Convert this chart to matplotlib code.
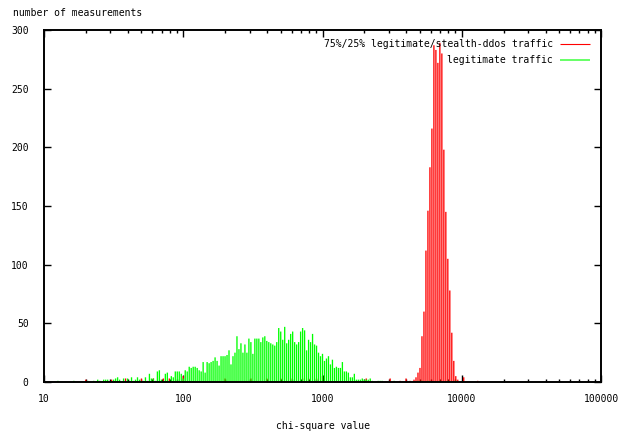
import numpy as np
import matplotlib.pyplot as plt
from matplotlib import ticker

# histogram bins are log-spaced: bin i is centred on 10 ** (1 + i / BINS_PER_DECADE)
BINS_PER_DECADE = 70

# legitimate traffic, counts for bins 0..172
GREEN_COUNTS = [
    0, 0, 0, 0, 0, 0, 0, 1, 0, 0,
    0, 0, 0, 0, 0, 1, 0, 0, 0, 0,
    0, 0, 1, 0, 0, 1, 0, 2, 1, 0,
    2, 2, 2, 0, 0, 2, 3, 4, 2, 0,
    3, 0, 3, 1, 4, 1, 2, 4, 2, 0,
    1, 4, 1, 7, 3, 3, 1, 9, 10, 2,
    1, 7, 8, 1, 5, 4, 9, 9, 9, 7,
    3, 10, 9, 13, 12, 13, 13, 12, 10, 9,
    17, 8, 17, 16, 17, 18, 21, 18, 14, 22,
    22, 22, 23, 27, 15, 22, 25, 39, 28, 33,
    25, 32, 25, 37, 34, 24, 37, 37, 37, 34,
    38, 39, 35, 34, 33, 32, 31, 34, 46, 43,
    36, 47, 33, 36, 41, 43, 34, 32, 34, 43,
    46, 44, 27, 36, 34, 41, 32, 31, 25, 22,
    24, 18, 20, 22, 15, 19, 12, 13, 12, 12,
    17, 9, 9, 8, 4, 4, 7, 2, 2, 2,
    3, 2, 2, 2, 3, 1, 0, 0, 1, 1,
    1, 0, 0,
]
GREEN_TAIL_BINS = [176, 188, 190, 193, 199, 203, 207]
GREEN_TAIL_COUNTS = [1, 1, 1, 1, 1, 1, 1]

# 75%/25% legitimate/stealth-ddos traffic
RED_BINS = [
    21, 34, 41, 49, 55, 60, 63, 70, 91, 104, 112, 119, 124, 130, 133, 137,
    140, 162, 174, 179, 182, 184,
    186, 187, 188, 189, 190, 191, 192, 193, 194, 195, 196, 197, 198, 199,
    200, 201, 202, 203, 204, 205, 206, 207, 208, 211, 218,
]
RED_COUNTS = [
    2, 2, 3, 3, 3, 3, 3, 5, 3, 3, 3, 3, 3, 3, 3, 3,
    5, 3, 3, 1, 3, 1,
    2, 4, 8, 12, 39, 60, 112, 146, 183, 216, 287, 283, 272, 289,
    280, 198, 145, 105, 78, 42, 18, 5, 2, 4, 1,
]

SERIES_LABELS = ["75%/25% legitimate/stealth-ddos traffic", "legitimate traffic"]


def bin_centre(idx):
    return 10.0 ** (1 + np.asarray(idx, dtype=float) / BINS_PER_DECADE)


plt.rcParams.update({
    "font.family": "DejaVu Sans Mono",
    "font.size": 7,
})

fig = plt.figure(figsize=(6.25, 4.34), dpi=100)
ax = fig.add_axes([44 / 625, 1 - 382 / 434, 557 / 625, 352 / 434])

green_bins = np.concatenate([np.arange(len(GREEN_COUNTS)), GREEN_TAIL_BINS])
green_counts = np.concatenate([GREEN_COUNTS, GREEN_TAIL_COUNTS])
keep = green_counts > 0

# no pixel snapping, so the impulses blur between pixels like the downscaled original
red = ax.vlines(bin_centre(RED_BINS), 0, RED_COUNTS, colors="#ff0000", lw=0.95,
                label=SERIES_LABELS[0])
green = ax.vlines(bin_centre(green_bins[keep]), 0, green_counts[keep],
                  colors="#00ff00", lw=0.95, label=SERIES_LABELS[1])
red.set_snap(False)
green.set_snap(False)

ax.set_xscale("log")
ax.set_xlim(10, 100000)
ax.set_ylim(0, 300)
ax.set_yticks(np.arange(0, 301, 50))
ax.xaxis.set_major_formatter(ticker.FuncFormatter(lambda v, _: f"{v:g}"))
ax.xaxis.set_minor_formatter(ticker.NullFormatter())

ax.tick_params(which="both", direction="in", top=True, right=True, width=1)
ax.tick_params(which="major", length=5)
ax.tick_params(which="minor", length=2.5)
ax.tick_params(axis="y", pad=11)
ax.tick_params(axis="x", pad=9)
for spine in ax.spines.values():
    spine.set_linewidth(1.4)

ax.set_xlabel("chi-square value", labelpad=12)
fig.text(13 / 625, 1 - 13 / 434, "number of measurements", ha="left", va="center")

leg = ax.legend(loc="upper right", bbox_to_anchor=(0.98, 0.974), frameon=False,
                markerfirst=False, handlelength=3.1, handletextpad=0.7,
                labelspacing=0.6, borderaxespad=0, borderpad=0)
leg.legend_handles[0].set_color("#ff0000")
leg.legend_handles[0].set_linewidth(0.8)
leg.legend_handles[1].set_color("#66ff66")
leg.legend_handles[1].set_linewidth(1.4)

fig.savefig("out.png", dpi=100)
